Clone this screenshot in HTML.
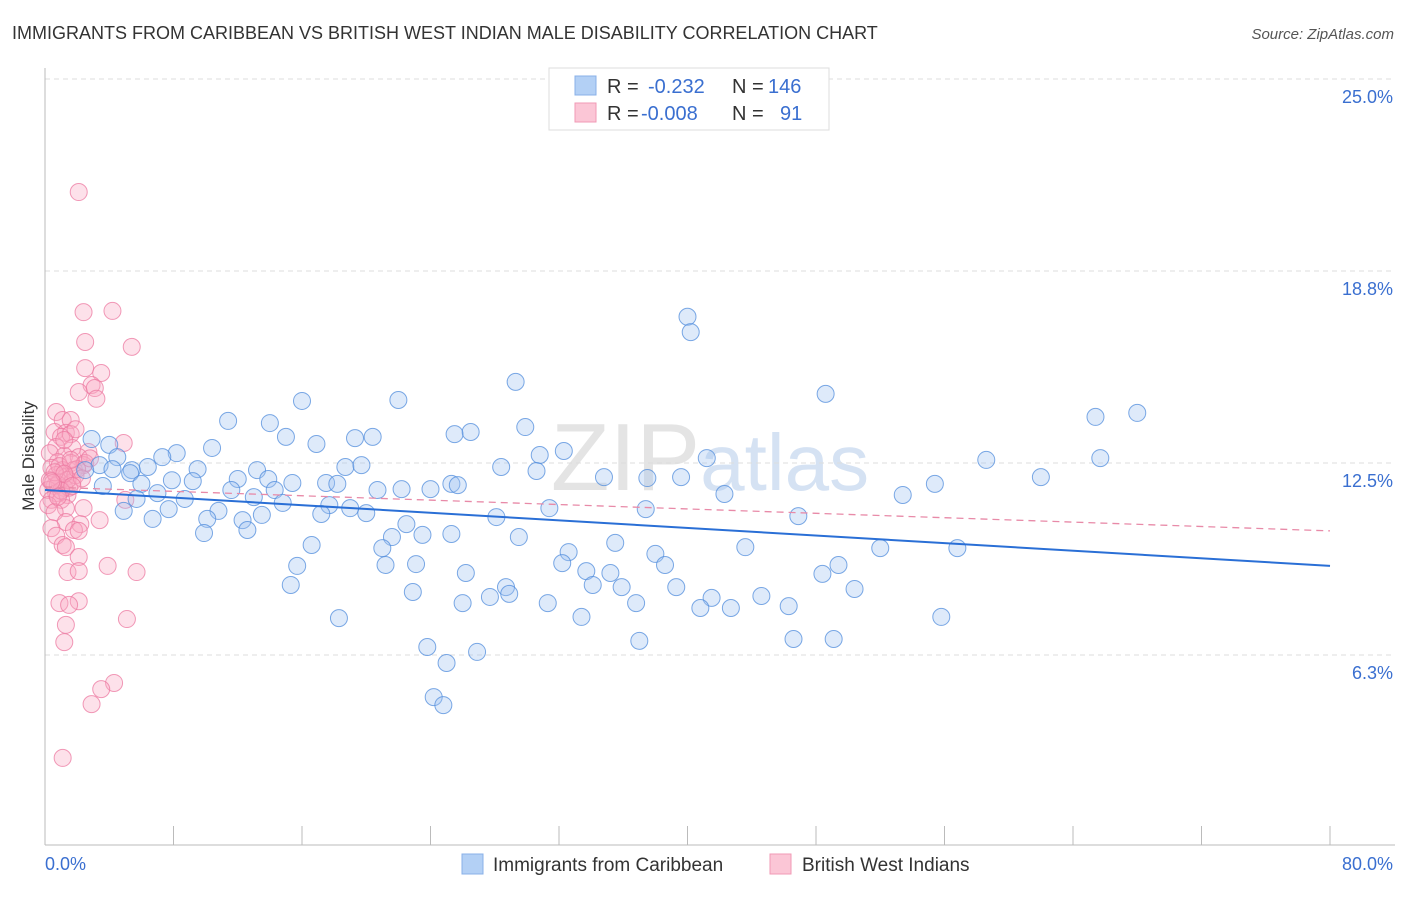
<!DOCTYPE html>
<html><head><meta charset="utf-8"><style>
body{margin:0;background:#fff;font-family:"Liberation Sans",sans-serif;}
svg text{font-family:"Liberation Sans",sans-serif;}
</style></head><body>
<svg id="chart" width="1406" height="892" xmlns="http://www.w3.org/2000/svg">
<text x="12" y="39" font-size="18" fill="#333">IMMIGRANTS FROM CARIBBEAN VS BRITISH WEST INDIAN MALE DISABILITY CORRELATION CHART</text>
<text x="1394" y="39" font-size="15" fill="#555" font-style="italic" text-anchor="end">Source: ZipAtlas.com</text>
<text x="710" y="490" font-size="96" fill="#e4e4e4" text-anchor="middle" font-family="Liberation Serif">ZIP<tspan fill="#d5e2f3" font-family="Liberation Sans" font-size="80">atlas</tspan></text>
<g id="grid"></g>
<g id="axes"></g>
<g id="pts"></g>
<g id="trend"></g>
<text transform="translate(34,456) rotate(-90)" font-size="17" fill="#333" text-anchor="middle">Male Disability</text>
<g>
<rect x="549" y="68" width="280" height="62" fill="#fff" stroke="#ddd"/>
<rect x="575" y="76" width="21" height="19" fill="#b3d0f5" stroke="#88b0e8"/>
<rect x="575" y="103" width="21" height="19" fill="#fbc6d6" stroke="#f09ab5"/>
<text x="607" y="93" font-size="20" fill="#333">R = <tspan fill="#3a6fd0" x="648">-0.232</tspan><tspan x="732">N = </tspan><tspan fill="#3a6fd0" x="768">146</tspan></text>
<text x="607" y="120" font-size="20" fill="#333">R = <tspan fill="#3a6fd0" x="641">-0.008</tspan><tspan x="732">N = </tspan><tspan fill="#3a6fd0" x="780">91</tspan></text>
</g>
<g>
<rect x="462" y="854" width="21" height="20" fill="#b3d0f5" stroke="#88b0e8"/>
<text x="493" y="871" font-size="19" fill="#333">Immigrants from Caribbean</text>
<rect x="770" y="854" width="21" height="20" fill="#fbc6d6" stroke="#f09ab5"/>
<text x="802" y="871" font-size="19" fill="#333">British West Indians</text>
</g>
</svg>
<script>
const xTicks=[0,8,16,24,32,40,48,56,64,72,80];
const yTicks=[6.25,12.5,18.75,25];
const yTickLabels=["6.3%","12.5%","18.8%","25.0%"];
const xTickLabels=["0.0%","80.0%"];
const blueX=[40.0,40.2,29.3,48.6,16.0,22.0,68.0,65.4,11.4,14.0,29.9,2.9,15.0,19.3,20.4,25.5,26.5,16.9,4.0,10.4,8.2,7.3,4.5,41.2,58.6,65.7,30.8,32.3,3.4,6.4,2.5,5.4,4.2,5.3,9.5,13.2,18.7,19.7,28.4,30.6,34.8,37.5,39.6,62.0,7.9,9.2,12.0,13.9,17.5,18.2,25.3,25.7,55.4,3.6,6.0,7.0,11.6,14.3,20.7,22.2,24.0,8.7,13.0,42.3,53.4,5.7,14.8,10.8,7.7,4.9,17.7,17.2,19.0,20.0,31.4,37.4,6.7,10.1,12.3,13.5,28.1,46.9,22.5,9.9,12.6,21.6,23.5,25.3,29.5,16.6,21.0,35.5,43.6,52.0,56.8,32.6,38.0,15.7,21.2,23.1,32.2,38.6,49.4,26.2,33.7,35.2,48.4,15.3,28.7,34.1,35.9,39.3,22.9,28.9,50.4,27.7,41.5,44.6,26.0,31.3,36.8,40.8,42.7,46.3,18.3,33.4,55.8,46.6,49.1,37.0,23.8,26.9,25.0,24.2,24.8,15.4];
const blueY=[17.26,16.76,15.14,14.75,14.52,14.55,14.13,14.0,13.87,13.8,13.67,13.28,13.35,13.31,13.35,13.44,13.51,13.12,13.09,12.99,12.82,12.69,12.69,12.66,12.6,12.66,12.76,12.89,12.43,12.37,12.27,12.27,12.3,12.17,12.3,12.27,12.37,12.43,12.37,12.24,12.04,12.01,12.04,12.04,11.94,11.91,11.98,11.98,11.85,11.82,11.82,11.78,11.82,11.75,11.82,11.52,11.62,11.62,11.62,11.65,11.65,11.33,11.39,11.49,11.46,11.33,11.2,10.94,11.0,10.94,11.13,10.84,11.03,10.87,11.03,11.0,10.68,10.68,10.64,10.81,10.74,10.77,10.51,10.22,10.32,10.09,10.16,10.19,10.09,9.83,9.73,9.9,9.76,9.73,9.73,9.6,9.54,9.15,9.18,9.21,9.24,9.18,9.18,8.92,8.98,8.92,8.89,8.53,8.46,8.53,8.46,8.46,8.3,8.24,8.4,8.14,8.11,8.17,7.94,7.94,7.94,7.78,7.78,7.84,7.45,7.49,7.49,6.77,6.77,6.71,6.51,6.35,5.99,4.88,4.62,11.85];
const pinkX=[2.1,2.4,4.2,2.5,5.4,2.5,3.5,2.9,3.1,2.1,0.7,1.1,1.6,4.9,0.6,1.3,1.0,1.6,0.7,1.7,2.7,0.3,1.2,2.1,0.8,1.6,2.4,0.4,1.1,1.8,0.7,1.3,0.3,0.9,1.7,0.6,1.2,0.2,0.7,1.4,0.4,1.0,5.0,0.2,1.3,2.4,0.6,3.4,1.3,2.2,0.4,1.8,2.1,0.7,1.1,1.3,2.1,3.9,5.7,1.4,2.1,2.1,0.9,1.5,5.1,1.3,1.2,4.3,3.5,2.9,1.1,3.2,1.9,1.2,0.8,1.5,2.5,2.8,0.9,1.9,1.4,0.6,1.0,2.0,0.5,1.6,2.3,0.8,1.2,0.4,1.7];
const pinkY=[21.32,17.41,17.45,16.44,16.28,15.59,15.43,15.04,14.94,14.81,14.16,13.9,13.9,13.15,13.51,13.48,13.35,13.44,13.02,12.99,12.86,12.82,12.73,12.69,12.53,12.5,12.43,12.34,12.27,12.27,12.11,12.04,11.94,11.88,11.88,11.75,11.69,11.62,11.52,11.46,11.3,11.3,11.3,11.13,11.03,11.03,10.9,10.64,10.58,10.51,10.38,10.32,10.29,10.13,9.83,9.76,9.44,9.15,8.95,8.95,8.98,8.0,7.94,7.88,7.42,7.23,6.67,5.34,5.14,4.65,2.9,14.59,13.6,13.25,11.8,11.7,12.5,12.65,12.4,12.1,11.95,12.2,11.6,12.3,11.85,12.6,12.0,11.4,12.15,11.9,11.75];
const blueTrend=[11.62,9.15];
const pinkTrend=[11.72,10.29];
const NS="http://www.w3.org/2000/svg";
const X0=45,X1=1330,Y0=847,Y25=79;
function sx(v){return X0+(X1-X0)*v/80;}
function sy(v){return Y0-(Y0-Y25)*v/25;}
function mk(parent,tag,attrs){const e=document.createElementNS(NS,tag);for(const k in attrs)e.setAttribute(k,attrs[k]);document.getElementById(parent).appendChild(e);return e;}
yTicks.forEach((t,i)=>{
 const l=mk('grid','line',{x1:X0,x2:1395,y1:sy(t),y2:sy(t),stroke:'#ddd','stroke-dasharray':'5,4'});
 
 
 const tx=mk('axes','text',{x:1393,y:sy(t)+24,'font-size':18,fill:'#3a6fd0','text-anchor':'end'});
 tx.textContent=yTickLabels[i];
 
 
});
const ya=mk('axes','line',{x1:X0,x2:X0,y1:68,y2:845,stroke:'#bbb'});


const xa=mk('axes','line',{x1:X0,x2:1395,y1:845,y2:845,stroke:'#bbb'});


xTicks.forEach(t=>{if(t===0)return;
 const l=mk('axes','line',{x1:sx(t),x2:sx(t),y1:826,y2:845,stroke:'#bbb'});
 
 
});
const xl0=mk('axes','text',{x:X0,y:870,'font-size':18,fill:'#3a6fd0'});xl0.textContent=xTickLabels[0];


const xl1=mk('axes','text',{x:1393,y:870,'font-size':18,fill:'#3a6fd0','text-anchor':'end'});xl1.textContent=xTickLabels[1];


pinkX.forEach((x,i)=>{
 const c=mk('pts','circle',{cx:sx(x),cy:sy(pinkY[i]),r:8.5,fill:'rgba(248,170,195,0.35)',stroke:'rgba(236,120,160,0.75)','stroke-width':1});
 
 
});
blueX.forEach((x,i)=>{
 const c=mk('pts','circle',{cx:sx(x),cy:sy(blueY[i]),r:8.5,fill:'rgba(160,196,240,0.35)',stroke:'rgba(80,140,220,0.75)','stroke-width':1});
 
 
});
const tb=mk('trend','line',{x1:sx(0),y1:sy(blueTrend[0]),x2:sx(80),y2:sy(blueTrend[1]),stroke:'#2a6fd6','stroke-width':2});


const tp=mk('trend','line',{x1:sx(0),y1:sy(pinkTrend[0]),x2:sx(80),y2:sy(pinkTrend[1]),stroke:'#e88aa8','stroke-width':1.3,'stroke-dasharray':'7,5'});


</script>
</body></html>
